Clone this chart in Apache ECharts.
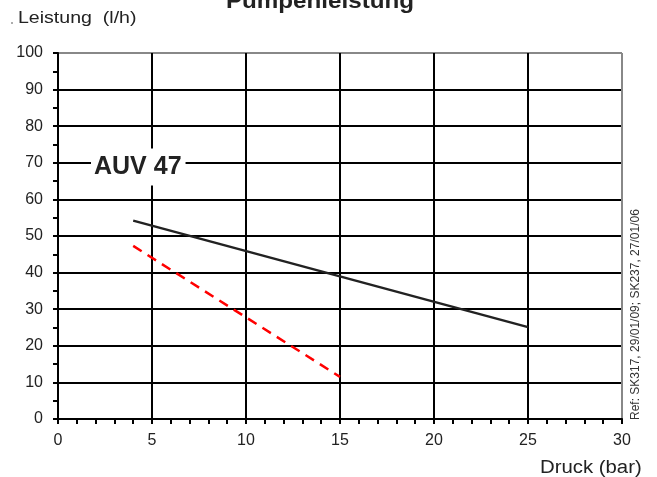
<!DOCTYPE html>
<html><head><meta charset="utf-8">
<script src="https://cdn.jsdelivr.net/npm/echarts@6/dist/echarts.min.js"></script>
<style>html,body{margin:0;padding:0;background:#fff}#c{width:657px;height:477px}</style>
</head><body><div id="c"></div>
<script>
var titleText = 'Pumpenleistung';
var yAxisName = 'Leistung  (l/h)';
var xAxisName = 'Druck (bar)';
var modelLabel = 'AUV 47';
var refText = 'Ref: SK317, 29/01/09; SK237, 27/01/06';
var solidX = [4, 25];
var solidY = [54.2, 25.1];
var dashedX = [4, 15];
var dashedY = [47.3, 11.5];

var FONT = '"Liberation Sans", Arial, sans-serif';
var chart = echarts.init(document.getElementById('c'), null, {renderer: 'canvas'});
function pairs(xs, ys){ return xs.map(function(x,i){ return [x, ys[i]]; }); }
var xGridColors = ['#000','#000','#000','#000','#000','#000','#888'];
var yGridColors = ['#000','#000','#000','#000','#000','#000','#000','#000','#000','#000','#888'];
chart.setOption({
  animation: false,
  backgroundColor: '#fff',
  grid: {left: 58, right: 35, top: 53, bottom: 58},
  xAxis: {type: 'value', min: 0, max: 30, interval: 5,
    axisLine: {show: true, onZero: false, lineStyle: {color: '#000', width: 2}},
    axisTick: {show: true, length: 5, lineStyle: {color: '#000', width: 2}},
    minorTick: {show: true, splitNumber: 5, length: 5, lineStyle: {color: '#000', width: 2}},
    axisLabel: {fontFamily: FONT, fontSize: 16, color: '#222', margin: 14},
    splitLine: {show: true, lineStyle: {color: xGridColors, width: 2}}},
  yAxis: {type: 'value', min: 0, max: 100, interval: 10,
    axisLine: {show: true, lineStyle: {color: '#000', width: 2}},
    axisTick: {show: true, length: 5, lineStyle: {color: '#000', width: 2}},
    minorTick: {show: true, splitNumber: 2, length: 5, lineStyle: {color: '#000', width: 2}},
    axisLabel: {fontFamily: FONT, fontSize: 16, color: '#222', margin: 15},
    splitLine: {show: true, lineStyle: {color: yGridColors, width: 2}}},
  graphic: [
    {type: 'text', x: 320, y: 2, scaleX: 1.1,
      style: {text: titleText, font: 'bold 22px ' + FONT, fill: '#222', textAlign: 'center', textVerticalAlign: 'middle'}},
    {type: 'text', x: 18, y: 18, scaleX: 1.15,
      style: {text: yAxisName, font: '17px ' + FONT, fill: '#222', textAlign: 'left', textVerticalAlign: 'middle'}},
    {type: 'circle', shape: {cx: 12, cy: 23, r: 0.8}, style: {fill: '#444'}},
    {type: 'text', x: 540, y: 468, scaleX: 1.13,
      style: {text: xAxisName, font: '18px ' + FONT, fill: '#222', textAlign: 'left', textVerticalAlign: 'middle'}},
    {type: 'text', x: 91, y: 167, z: 100,
      style: {text: modelLabel, font: 'bold 25px ' + FONT, fill: '#222', textVerticalAlign: 'middle',
        backgroundColor: '#fff', padding: [6, 4, 6, 3]}},
    {type: 'text', x: 636, y: 420, rotation: Math.PI/2,
      style: {text: refText, font: '12px ' + FONT, fill: '#333', textAlign: 'left', textVerticalAlign: 'middle'}}
  ],
  series: [
    {type: 'line', data: pairs(solidX, solidY), showSymbol: false, symbol: 'none',
      lineStyle: {color: '#222', width: 2.5}},
    {type: 'line', data: pairs(dashedX, dashedY), showSymbol: false, symbol: 'none',
      lineStyle: {color: '#ff0000', width: 2.5, type: [10, 7]}}
  ]
});
</script></body></html>
